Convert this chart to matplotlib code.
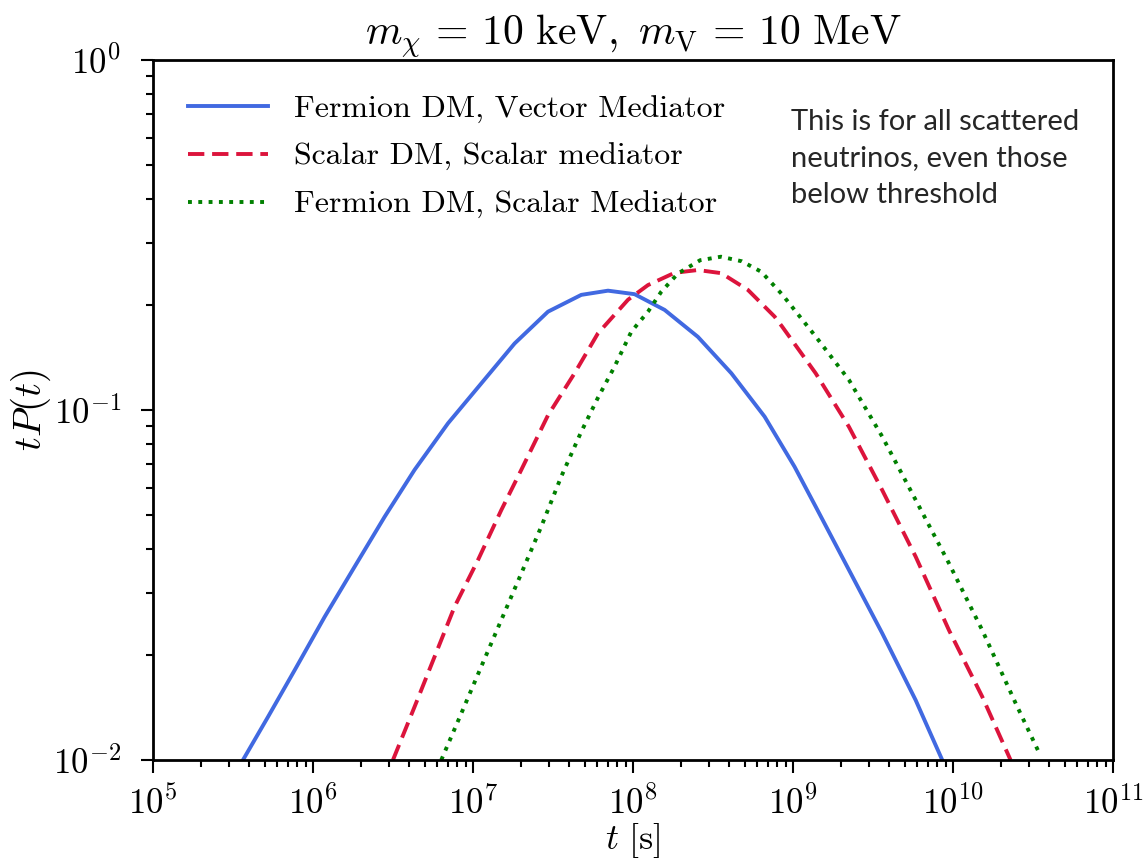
import numpy as np
import matplotlib
matplotlib.use("Agg")
import matplotlib.pyplot as plt
from matplotlib.ticker import NullFormatter

plt.rcParams['mathtext.fontset'] = 'cm'
plt.rcParams['font.family'] = 'serif'
plt.rcParams['font.serif'] = ['cmr10', 'DejaVu Serif']
plt.rcParams['axes.unicode_minus'] = False

# log10(t) and log10(t P(t)) for each model
vec_logt = [5.5625, 5.72, 5.886, 6.073, 6.26, 6.448, 6.635, 6.844, 7.052, 7.26, 7.469, 7.677,
            7.844, 8.01, 8.198, 8.406, 8.615, 8.823, 9.01, 9.142, 9.35, 9.558, 9.767, 9.933]
vec_logp = [-2.0, -1.876, -1.743, -1.591, -1.448, -1.305, -1.171, -1.038, -0.924, -0.81, -0.719, -0.671,
            -0.659, -0.669, -0.714, -0.791, -0.895, -1.019, -1.162, -1.276, -1.457, -1.638, -1.829, -2.0]

ssc_logt = [6.5, 6.635, 6.76, 6.885, 7.031, 7.177, 7.302, 7.469, 7.635, 7.781, 7.969, 8.094,
            8.26, 8.406, 8.552, 8.719, 8.885, 8.933, 9.142, 9.35, 9.558, 9.767, 9.975, 10.183, 10.36]
ssc_logp = [-2.0, -1.848, -1.705, -1.562, -1.429, -1.286, -1.171, -1.015, -0.895, -0.781, -0.685, -0.643,
            -0.608, -0.6, -0.609, -0.657, -0.733, -0.762, -0.895, -1.048, -1.229, -1.419, -1.629, -1.819, -2.0]

fsc_logt = [6.802, 6.927, 7.052, 7.177, 7.302, 7.427, 7.552, 7.677, 7.781, 7.885, 7.99, 8.094, 8.177,
            8.281, 8.42, 8.55, 8.68, 8.802, 8.933, 9.142, 9.35, 9.558, 9.767, 9.975, 10.183, 10.392, 10.535]
fsc_logp = [-2.0, -1.867, -1.733, -1.6, -1.467, -1.333, -1.19, -1.062, -0.965, -0.876, -0.776, -0.719, -0.662,
            -0.61, -0.572, -0.562, -0.575, -0.605, -0.67, -0.79, -0.914, -1.076, -1.257, -1.438, -1.629, -1.838, -1.976]

labels = ['Fermion DM, Vector Mediator', 'Scalar DM, Scalar mediator', 'Fermion DM, Scalar Mediator']

fig = plt.figure(figsize=(11.45, 8.65), dpi=100)
ax = fig.add_axes([0.1336, 0.1214, 0.8384, 0.8092])

ax.plot(10**np.array(vec_logt), 10**np.array(vec_logp), color='royalblue', lw=2.8, ls='-', label=labels[0])
ax.plot(10**np.array(ssc_logt), 10**np.array(ssc_logp), color='crimson', lw=2.8, ls=(0, (4.2, 2.0)), label=labels[1])
ax.plot(10**np.array(fsc_logt), 10**np.array(fsc_logp), color='green', lw=2.8, ls=':', label=labels[2])

ax.set_xscale('log')
ax.set_yscale('log')
ax.set_xlim(1e5, 1e11)
ax.set_ylim(1e-2, 1e0)
ax.xaxis.set_minor_formatter(NullFormatter())
ax.yaxis.set_minor_formatter(NullFormatter())

ax.tick_params(which='major', length=9, width=1.5, labelsize=25, top=False, right=False)
ax.tick_params(axis='x', which='major', pad=10)
ax.tick_params(axis='y', which='major', pad=14)
ax.tick_params(which='minor', length=5, width=1.5, top=False, right=False)
for s in ax.spines.values():
    s.set_linewidth(2)

ax.set_title(r'$m_\chi\,=\,10\ \mathrm{keV},\ m_{\rm V}\,=\,10\ \mathrm{MeV}$', fontsize=30, pad=8)
ax.set_xlabel(r'$t\ [\mathrm{s}]$', fontsize=26, labelpad=0)
ax.set_ylabel(r'$tP(t)$', fontsize=28, labelpad=0)

ax.legend(loc='upper left', fontsize=23, frameon=False, handlelength=2.5, labelspacing=0.6,
          borderaxespad=0.7, handletextpad=0.8)

ax.text(0.665, 0.93, 'This is for all scattered\nneutrinos, even those\nbelow threshold',
        transform=ax.transAxes, ha='left', va='top', family='Lato', fontsize=21,
        color='#262626', linespacing=1.5)

fig.savefig('out.png', dpi=100)
